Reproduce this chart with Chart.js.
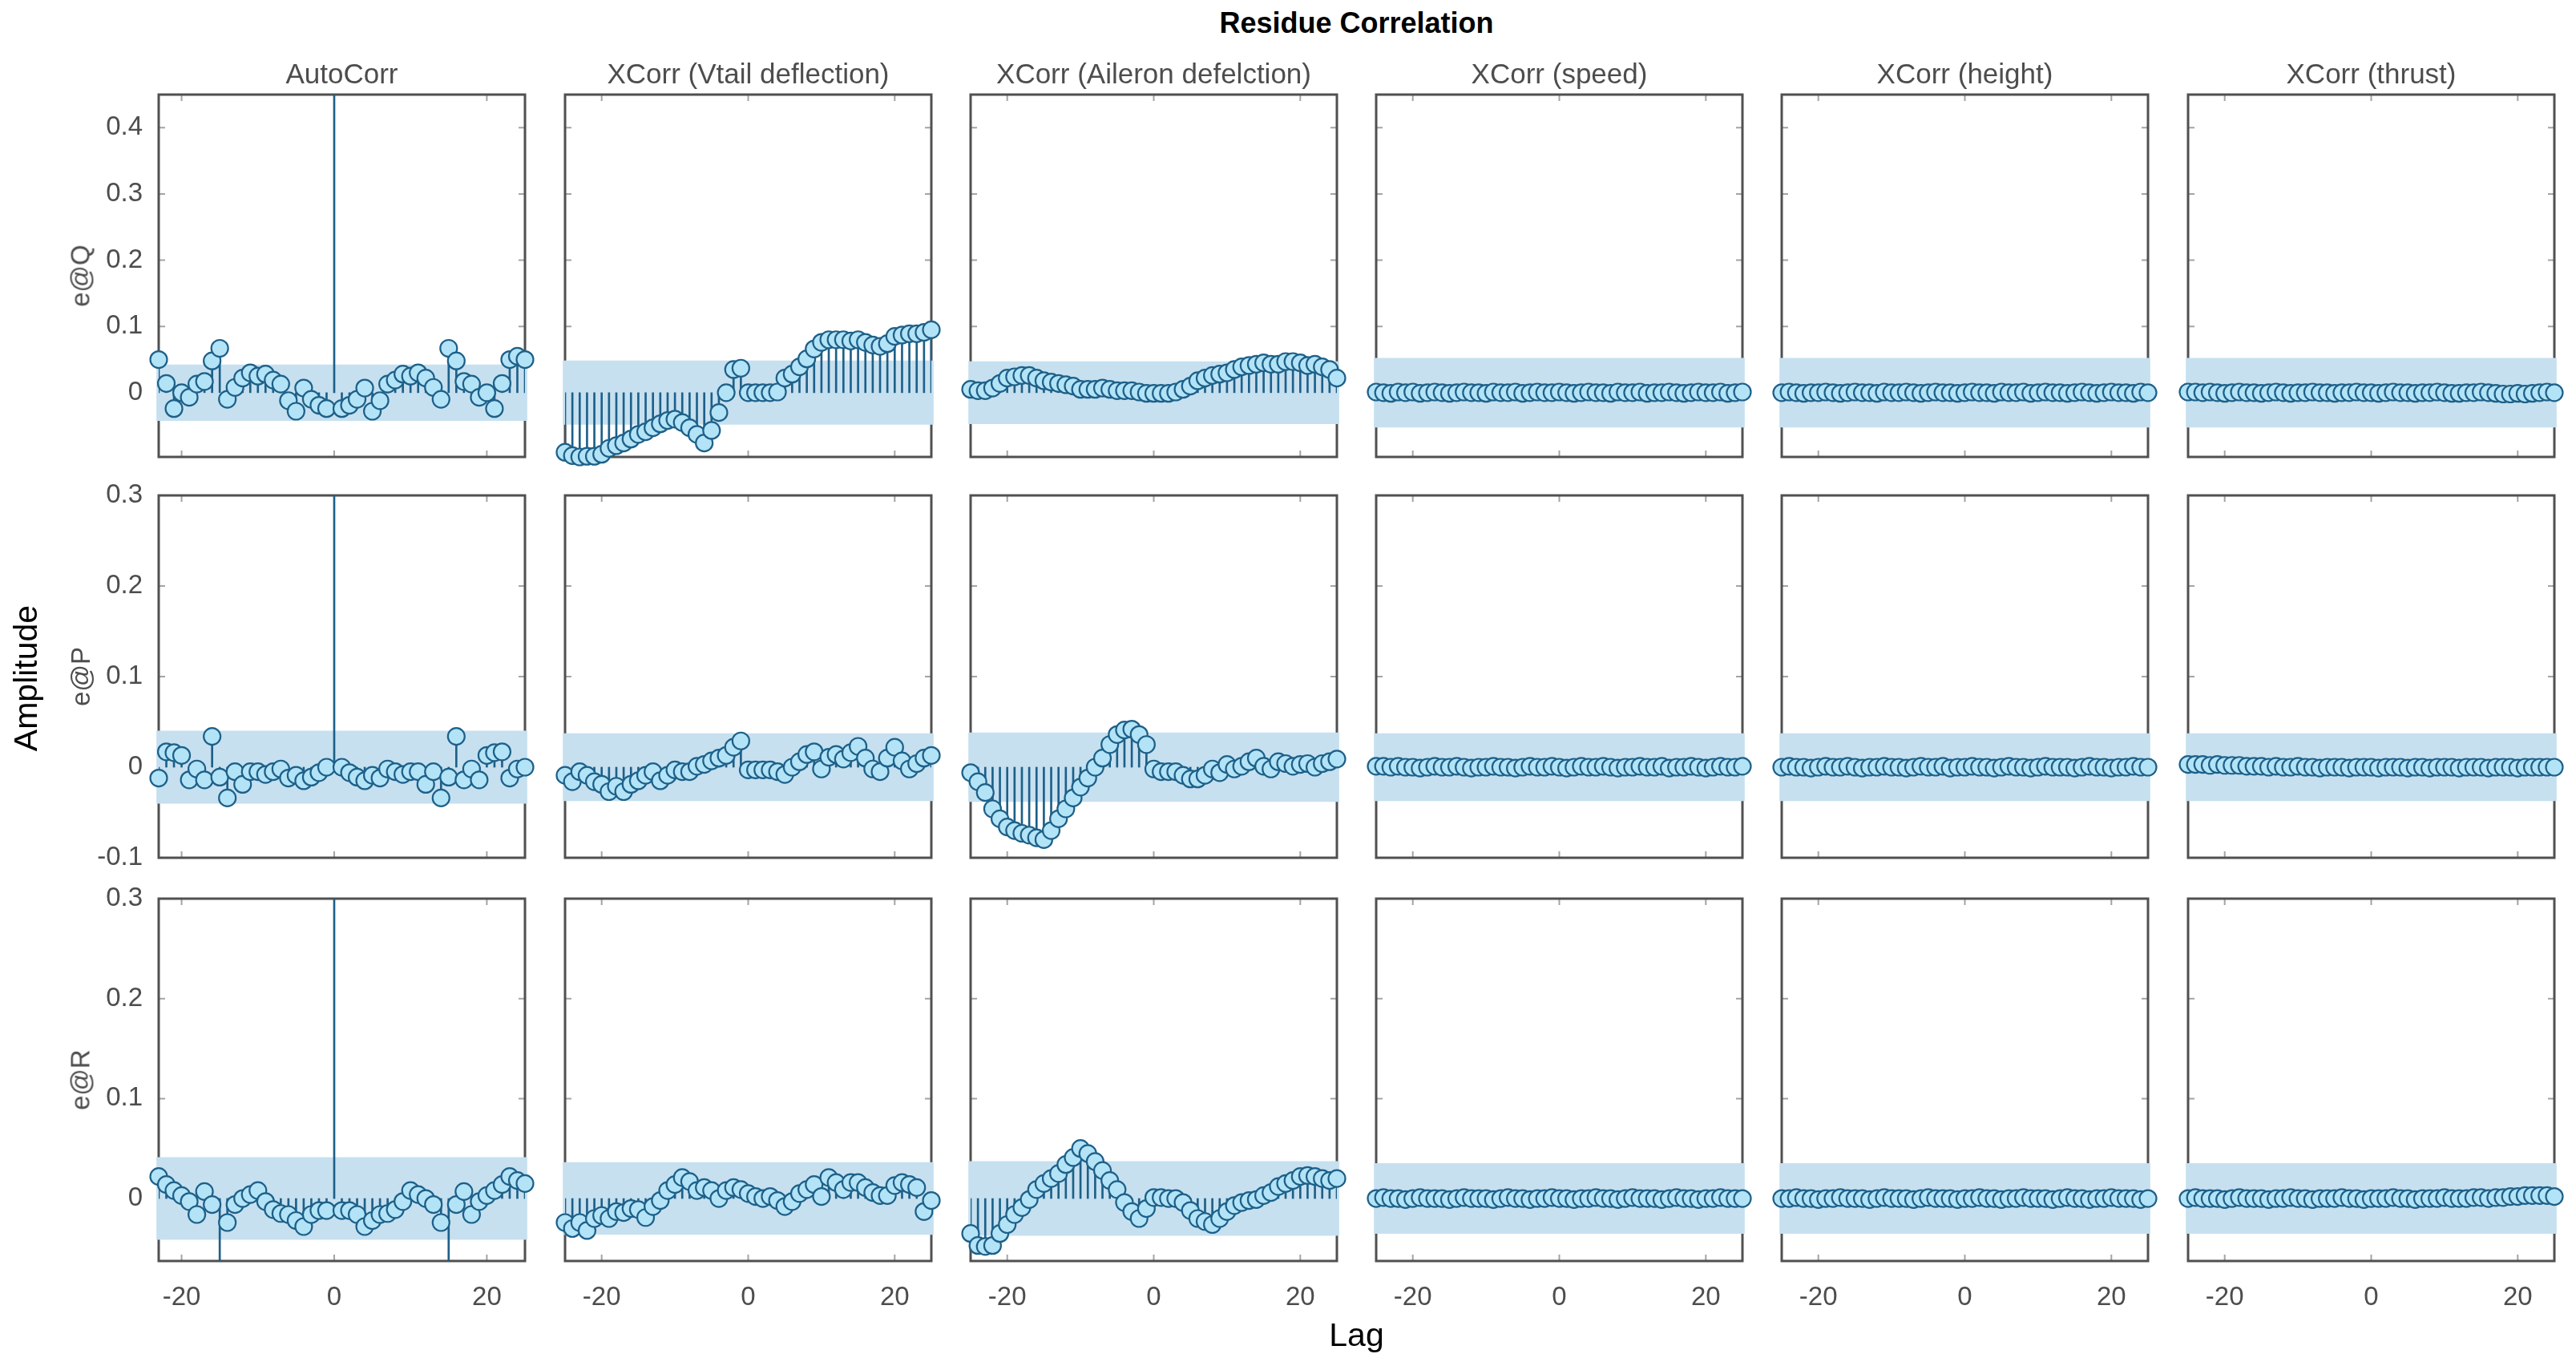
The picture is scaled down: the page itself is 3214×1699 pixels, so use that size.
<!DOCTYPE html>
<html>
<head>
<meta charset="utf-8">
<title>Residue Correlation</title>
<script src="https://cdn.jsdelivr.net/npm/chart.js@4.4.1/dist/chart.umd.min.js"></script>
<style>
  html, body { margin: 0; padding: 0; background: #fff; }
  #fig { position: relative; width: 3214px; height: 1699px; overflow: hidden;
         font-family: 'Liberation Sans', Arial, sans-serif; }
  #fig canvas { position: absolute; }
  .lbl { position: absolute; transform: translate(-50%, -50%); white-space: nowrap; line-height: 1; }
  .rot { transform: translate(-50%, -50%) rotate(-90deg); }
</style>
</head>
<body>
<div id="fig"></div>
<script>
// ---- data ----
const lags = [-25, -24, -23, -22, -21, -20, -19, -18, -17, -16, -15, -14, -13, -12, -11, -10, -9, -8, -7, -6, -5, -4, -3, -2, -1,
  0, 1, 2, 3, 4, 5, 6, 7, 8, 9, 10, 11, 12, 13, 14, 15, 16, 17, 18, 19, 20, 21, 22, 23, 24, 25];

const colTitles = ['AutoCorr', 'XCorr (Vtail deflection)', 'XCorr (Aileron defelction)',
  'XCorr (speed)', 'XCorr (height)', 'XCorr (thrust)'];
const rowNames = ['e@Q', 'e@P', 'e@R'];

const xTicks = [-20, 0, 20];
const xLimAuto = [-23, 25];
const xLimCross = [-25, 25];

const yTicksQ = [0, 0.1, 0.2, 0.3, 0.4];
const yTicksP = [-0.1, 0, 0.1, 0.2, 0.3];
const yTicksR = [0, 0.1, 0.2, 0.3];
const yLimQ = [-0.097, 0.45];
const yLimP = [-0.1, 0.3];
const yLimR = [-0.0625, 0.3];

// confidence band half widths per column
const bandQ = [0.042, 0.048, 0.047, 0.052, 0.052, 0.052];
const bandP = [0.040, 0.037, 0.038, 0.037, 0.037, 0.037];
const bandR = [0.041, 0.036, 0.037, 0.035, 0.035, 0.035];

// e@Q
const qAuto = [0.05, 0.055, 0.05, 0.014, -0.024, 0.0, -0.007, 0.013, 0.017, 0.048, 0.067, -0.01, 0.008, 0.022, 0.03, 0.025, 0.028, 0.019, 0.013, -0.012, -0.028, 0.007, -0.01, -0.019, -0.024,
  1, -0.024, -0.019, -0.01, 0.007, -0.028, -0.012, 0.013, 0.019, 0.028, 0.025, 0.03, 0.022, 0.008, -0.01, 0.067, 0.048, 0.017, 0.013, -0.007, 0.0, -0.024, 0.014, 0.05, 0.055, 0.05];
const qVtail = [-0.09, -0.095, -0.097, -0.096, -0.096, -0.093, -0.084, -0.08, -0.076, -0.07, -0.063, -0.059, -0.053, -0.047, -0.042, -0.04, -0.045, -0.053, -0.063, -0.076, -0.057, -0.03, 0.0, 0.035, 0.037,
  0.0, 0.0, 0.0, 0.0, 0.001, 0.022, 0.028, 0.039, 0.051, 0.066, 0.076, 0.08, 0.08, 0.08, 0.078, 0.08, 0.076, 0.072, 0.07, 0.074, 0.085, 0.087, 0.089, 0.089, 0.091, 0.095];
const qAileron = [0.005, 0.003, 0.003, 0.007, 0.014, 0.022, 0.024, 0.026, 0.026, 0.022, 0.018, 0.016, 0.014, 0.012, 0.01, 0.005, 0.005, 0.005, 0.007, 0.005, 0.003, 0.003, 0.003, 0.001, -0.001,
  -0.001, -0.001, -0.001, 0.001, 0.005, 0.01, 0.018, 0.022, 0.026, 0.028, 0.03, 0.035, 0.039, 0.041, 0.043, 0.045, 0.043, 0.043, 0.047, 0.047, 0.045, 0.041, 0.043, 0.039, 0.035, 0.022];
const qSpeed = [0.001, 0.000, -0.001, 0.001, 0.000, 0.001, -0.001, 0.000, 0.001, 0.000,
  -0.001, 0.000, 0.001, 0.000, 0.000, -0.001, 0.001, 0.000, 0.000, 0.001,
  -0.001, 0.000, 0.001, 0.000, 0.000, 0.001, 0.000, -0.001, 0.000, 0.001,
  0.000, 0.000, -0.001, 0.001, 0.000, 0.000, 0.001, -0.001, 0.000, 0.000,
  0.001, 0.000, -0.001, 0.000, 0.001, 0.000, 0.000, 0.001, -0.001, 0.000, 0.001];
const qHeight = [0.000, 0.001, 0.000, -0.001, 0.000, 0.000, 0.001, 0.000, -0.001, 0.000,
  0.001, 0.000, 0.000, -0.001, 0.001, 0.000, 0.000, 0.001, 0.000, -0.001,
  0.000, 0.001, 0.000, 0.000, -0.001, 0.000, 0.001, 0.000, 0.000, -0.001,
  0.001, 0.000, 0.000, 0.001, -0.001, 0.000, 0.001, 0.000, 0.000, -0.001,
  0.000, 0.001, 0.000, -0.001, 0.000, 0.001, 0.000, 0.000, -0.001, 0.001, 0.000];
const qThrust = [0.001, 0.001, 0.000, 0.001, 0.000, -0.001, 0.000, 0.001, 0.000, 0.000,
  -0.001, 0.000, 0.001, 0.000, -0.001, 0.000, 0.000, 0.001, 0.000, 0.000,
  -0.001, 0.000, 0.000, 0.001, 0.000, 0.000, -0.001, 0.000, 0.001, 0.000,
  0.000, -0.001, 0.000, 0.000, 0.001, 0.000, -0.001, -0.001, 0.000, 0.000,
  0.001, 0.000, -0.001, -0.002, -0.002, -0.001, -0.002, -0.001, 0.000, 0.001, 0.000];

// e@P
const pAuto = [0.0, -0.002, -0.012, 0.017, 0.016, 0.013, -0.014, -0.002, -0.014, 0.034, -0.011, -0.034, -0.005, -0.019, -0.005, -0.005, -0.008, -0.005, -0.002, -0.012, -0.009, -0.015, -0.011, -0.006, 0.0,
  1, 0.0, -0.006, -0.011, -0.015, -0.009, -0.012, -0.002, -0.005, -0.008, -0.005, -0.005, -0.019, -0.005, -0.034, -0.011, 0.034, -0.014, -0.002, -0.014, 0.013, 0.016, 0.017, -0.012, -0.002, 0.0];
const pVtail = [-0.009, -0.016, -0.005, -0.009, -0.016, -0.019, -0.027, -0.021, -0.027, -0.019, -0.015, -0.009, -0.005, -0.015, -0.009, -0.003, -0.005, -0.005, 0.001, 0.003, 0.007, 0.01, 0.013, 0.022, 0.029,
  -0.003, -0.003, -0.003, -0.003, -0.005, -0.008, 0.0, 0.006, 0.014, 0.017, -0.002, 0.011, 0.014, 0.009, 0.016, 0.023, 0.01, -0.002, -0.005, 0.01, 0.022, 0.007, -0.002, 0.004, 0.01, 0.013];
const pAileron = [-0.006, -0.016, -0.028, -0.046, -0.057, -0.066, -0.07, -0.073, -0.075, -0.078, -0.08, -0.07, -0.057, -0.046, -0.034, -0.022, -0.012, 0.0, 0.01, 0.025, 0.036, 0.041, 0.042, 0.036, 0.025,
  -0.002, -0.005, -0.005, -0.005, -0.009, -0.013, -0.013, -0.009, -0.002, -0.006, 0.003, -0.002, 0.001, 0.006, 0.01, 0.001, -0.002, 0.006, 0.004, 0.001, 0.003, 0.004, 0.0, 0.004, 0.006, 0.009];
const pSpeed = [0.001, 0.001, 0.000, 0.001, 0.000, 0.000, -0.001, 0.000, 0.001, 0.000,
  0.000, 0.001, 0.000, -0.001, 0.000, 0.000, 0.001, 0.000, 0.000, -0.001,
  0.000, 0.001, 0.000, 0.000, 0.001, 0.000, -0.001, 0.000, 0.001, 0.000,
  0.000, 0.001, 0.000, -0.001, 0.000, 0.000, 0.001, 0.000, 0.000, 0.001,
  -0.001, 0.000, 0.000, 0.001, 0.000, -0.001, 0.000, 0.001, 0.000, 0.000, 0.001];
const pHeight = [0.000, 0.001, 0.000, 0.000, -0.001, 0.000, 0.001, 0.000, 0.000, 0.001,
  0.000, -0.001, 0.000, 0.000, 0.001, 0.000, 0.000, -0.001, 0.000, 0.001,
  0.000, 0.000, 0.001, -0.001, 0.000, 0.000, 0.001, 0.000, 0.000, -0.001,
  0.000, 0.001, 0.000, 0.000, -0.001, 0.000, 0.001, 0.000, 0.000, 0.000,
  -0.001, 0.000, 0.001, 0.000, 0.000, -0.001, 0.000, 0.000, 0.001, 0.000, 0.000];
const pThrust = [0.003, 0.003, 0.003, 0.002, 0.003, 0.002, 0.002, 0.002, 0.001, 0.001,
  0.001, 0.000, 0.001, 0.000, 0.000, 0.001, 0.000, 0.000, -0.001, 0.000,
  0.000, 0.000, -0.001, 0.000, 0.000, 0.000, -0.001, 0.000, 0.000, 0.000,
  -0.001, 0.000, 0.000, -0.001, 0.000, 0.000, 0.000, -0.001, 0.000, 0.000,
  0.000, -0.001, 0.000, 0.000, 0.000, -0.001, 0.000, 0.000, 0.000, 0.000, 0.000];

// e@R
const rAuto = [0.015, 0.018, 0.022, 0.014, 0.008, 0.003, -0.003, -0.016, 0.007, -0.006, -0.12, -0.024, -0.006, 0.0, 0.004, 0.008, -0.003, -0.011, -0.015, -0.016, -0.022, -0.028, -0.016, -0.012, -0.012,
  1, -0.012, -0.012, -0.016, -0.028, -0.022, -0.016, -0.015, -0.011, -0.003, 0.008, 0.004, 0.0, -0.006, -0.024, -0.12, -0.006, 0.007, -0.016, -0.003, 0.003, 0.008, 0.014, 0.022, 0.018, 0.015];
const rVtail = [-0.024, -0.03, -0.024, -0.032, -0.02, -0.017, -0.02, -0.013, -0.014, -0.01, -0.011, -0.019, -0.008, -0.002, 0.008, 0.014, 0.021, 0.017, 0.008, 0.011, 0.008, 0.0, 0.008, 0.011, 0.009,
  0.005, 0.002, 0.0, 0.002, -0.002, -0.008, -0.003, 0.005, 0.009, 0.014, 0.002, 0.021, 0.016, 0.009, 0.016, 0.016, 0.011, 0.006, 0.003, 0.003, 0.013, 0.016, 0.014, 0.011, -0.013, -0.002];
const rAileron = [-0.035, -0.047, -0.048, -0.047, -0.035, -0.026, -0.016, -0.009, -0.001, 0.009, 0.015, 0.02, 0.025, 0.034, 0.041, 0.05, 0.045, 0.037, 0.028, 0.018, 0.009, -0.004, -0.013, -0.02, -0.01,
  0.001, 0.001, 0.0, 0.0, -0.004, -0.012, -0.02, -0.023, -0.026, -0.02, -0.013, -0.007, -0.004, -0.002, -0.001, 0.003, 0.006, 0.012, 0.015, 0.018, 0.022, 0.023, 0.022, 0.02, 0.018, 0.02];
const rSpeed = [0.000, 0.001, 0.000, 0.000, -0.001, 0.000, 0.001, 0.000, 0.000, 0.000,
  -0.001, 0.000, 0.001, 0.000, 0.000, 0.000, -0.001, 0.000, 0.001, 0.000,
  0.000, -0.001, 0.000, 0.000, 0.001, 0.000, 0.000, -0.001, 0.000, 0.000,
  0.001, 0.000, 0.000, -0.001, 0.000, 0.001, 0.000, 0.000, 0.000, -0.001,
  0.000, 0.001, 0.000, 0.000, -0.001, 0.000, 0.000, 0.001, 0.000, 0.000, 0.000];
const rHeight = [0.000, 0.000, 0.001, 0.000, 0.000, -0.001, 0.000, 0.000, 0.001, 0.000,
  0.000, 0.000, -0.001, 0.000, 0.001, 0.000, 0.000, 0.000, -0.001, 0.000,
  0.001, 0.000, 0.000, 0.000, -0.001, 0.000, 0.000, 0.001, 0.000, 0.000,
  -0.001, 0.000, 0.000, 0.001, 0.000, 0.000, 0.000, -0.001, 0.000, 0.001,
  0.000, 0.000, -0.001, 0.000, 0.000, 0.001, 0.000, 0.000, 0.000, -0.001, 0.000];
const rThrust = [0.000, 0.001, 0.000, 0.000, 0.000, -0.001, 0.000, 0.001, 0.000, 0.000,
  0.000, -0.001, 0.000, 0.000, 0.001, 0.000, 0.000, -0.001, 0.000, 0.000,
  0.000, 0.001, 0.000, 0.000, -0.001, 0.000, 0.000, 0.000, 0.001, 0.000,
  0.000, -0.001, 0.000, 0.000, 0.000, 0.001, 0.000, 0.000, 0.000, 0.001,
  0.001, 0.000, 0.001, 0.001, 0.002, 0.002, 0.003, 0.003, 0.003, 0.003, 0.002];

const rows = [
  { name: rowNames[0], lim: yLimQ, ticks: yTicksQ, band: bandQ, series: [qAuto, qVtail, qAileron, qSpeed, qHeight, qThrust] },
  { name: rowNames[1], lim: yLimP, ticks: yTicksP, band: bandP, series: [pAuto, pVtail, pAileron, pSpeed, pHeight, pThrust] },
  { name: rowNames[2], lim: yLimR, ticks: yTicksR, band: bandR, series: [rAuto, rVtail, rAileron, rSpeed, rHeight, rThrust] }
];

// ---- layout ----
const COL_X = [198, 705, 1211, 1717, 2223, 2730];
const ROW_Y = [118, 618, 1121];
const PANEL_W = 457;
const PANEL_H = 452;
const PAD = 50;
const YAXIS_W = 110;
const XAXIS_H = 80;
const TICK_LEN = 8;

const STEM = '#1d6089';
const MARKER_FILL = '#b3e3f6';
const BAND = '#c6e0f0';
const GRAY_TEXT = '#4d4d4d';

Chart.defaults.font.family = "'Liberation Sans', Arial, sans-serif";

// box on, ticks pointing inward like the original
const axesBox = {
    id: 'axesBox',
    beforeDatasetsDraw(chart) {
        const { ctx, chartArea: a, scales } = chart;
        ctx.save();
        ctx.strokeStyle = 'rgba(90, 90, 90, 0.55)';
        ctx.lineWidth = 2;
        ctx.beginPath();
        scales.x.ticks.forEach(t => {
            const px = scales.x.getPixelForValue(t.value);
            ctx.moveTo(px, a.bottom); ctx.lineTo(px, a.bottom - TICK_LEN);
            ctx.moveTo(px, a.top); ctx.lineTo(px, a.top + TICK_LEN);
        });
        scales.y.ticks.forEach(t => {
            const py = scales.y.getPixelForValue(t.value);
            ctx.moveTo(a.left, py); ctx.lineTo(a.left + TICK_LEN, py);
            ctx.moveTo(a.right, py); ctx.lineTo(a.right - TICK_LEN, py);
        });
        ctx.stroke();
        ctx.strokeStyle = '#505050';
        ctx.lineWidth = 3;
        ctx.strokeRect(a.left, a.top, a.width, a.height);
        ctx.restore();
    }
};

const fig = document.getElementById('fig');

function fmtTick(v) {
    return String(Math.round(v * 10) / 10);
}

function makePanel(r, c) {
    const row = rows[r];
    const vals = row.series[c];
    const xLim = c === 0 ? xLimAuto : xLimCross;
    const showY = c === 0;
    const showX = r === rows.length - 1;
    const yW = showY ? YAXIS_W : 0;
    const xH = showX ? XAXIS_H : 0;

    const canvas = document.createElement('canvas');
    canvas.width = PANEL_W + 2 * PAD + yW;
    canvas.height = PANEL_H + 2 * PAD + xH;
    canvas.style.left = (COL_X[c] - PAD - yW) + 'px';
    canvas.style.top = (ROW_Y[r] - PAD) + 'px';
    fig.appendChild(canvas);

    const points = lags.map((l, i) => ({ x: l, y: vals[i] }));
    const tol = 0.002;
    const visible = p => p.x >= xLim[0] - 0.01 && p.x <= xLim[1] + 0.01 &&
        p.y >= row.lim[0] - tol && p.y <= row.lim[1] + tol;

    return new Chart(canvas, {
        type: 'scatter',
        data: {
            datasets: [
                {
                    type: 'bar',
                    data: [{ x: (xLim[0] + xLim[1]) / 2, y: [-row.band[c], row.band[c]] }],
                    backgroundColor: BAND,
                    barThickness: PANEL_W + 5,
                    grouped: false,
                    clip: 3,
                    order: 3
                },
                {
                    type: 'bar',
                    data: points,
                    backgroundColor: STEM,
                    barThickness: 2,
                    grouped: false,
                    clip: 0,
                    order: 2
                },
                {
                    type: 'scatter',
                    data: points,
                    pointRadius: ctx => (ctx.raw && visible(ctx.raw)) ? 10.5 : 0,
                    pointBackgroundColor: MARKER_FILL,
                    pointBorderColor: STEM,
                    pointBorderWidth: 2.2,
                    showLine: false,
                    clip: false,
                    order: 1
                }
            ]
        },
        options: {
            responsive: false,
            animation: false,
            events: [],
            layout: { padding: PAD },
            plugins: { legend: { display: false }, tooltip: { enabled: false } },
            scales: {
                x: {
                    type: 'linear',
                    min: xLim[0],
                    max: xLim[1],
                    offset: false,
                    grid: { display: false, drawTicks: false, offset: false },
                    border: { display: false },
                    afterBuildTicks: s => { s.ticks = xTicks.map(v => ({ value: v })); },
                    afterFit: s => { s.height = xH; },
                    ticks: {
                        display: showX,
                        autoSkip: false,
                        maxRotation: 0,
                        padding: 26,
                        color: GRAY_TEXT,
                        font: { size: 33 },
                        callback: v => fmtTick(v)
                    }
                },
                y: {
                    type: 'linear',
                    min: row.lim[0],
                    max: row.lim[1],
                    grid: { display: false, drawTicks: false },
                    border: { display: false },
                    afterBuildTicks: s => { s.ticks = row.ticks.map(v => ({ value: v })); },
                    afterFit: s => { s.width = yW; },
                    ticks: {
                        display: showY,
                        autoSkip: false,
                        padding: 20,
                        color: GRAY_TEXT,
                        font: { size: 33 },
                        callback: v => fmtTick(v)
                    }
                }
            }
        },
        plugins: [axesBox]
    });
}

for (let r = 0; r < rows.length; r++) {
    for (let c = 0; c < colTitles.length; c++) {
        makePanel(r, c);
    }
}

// ---- text ----
function addLabel(text, x, y, style, rotate) {
    const el = document.createElement('div');
    el.className = 'lbl' + (rotate ? ' rot' : '');
    el.textContent = text;
    el.style.left = x + 'px';
    el.style.top = y + 'px';
    Object.assign(el.style, style);
    fig.appendChild(el);
}

const figCenterX = (COL_X[0] + COL_X[5] + PANEL_W) / 2;
addLabel('Residue Correlation', figCenterX, 29, { fontSize: '36px', fontWeight: 'bold', color: '#000' });
colTitles.forEach((t, c) => {
    addLabel(t, COL_X[c] + PANEL_W / 2, 91, { fontSize: '35px', color: GRAY_TEXT });
});
rows.forEach((row, r) => {
    addLabel(row.name, 100, ROW_Y[r] + PANEL_H / 2, { fontSize: '33px', color: GRAY_TEXT }, true);
});
addLabel('Amplitude', 32, (ROW_Y[0] + ROW_Y[2] + PANEL_H) / 2, { fontSize: '41px', color: '#000' }, true);
addLabel('Lag', figCenterX, 1665, { fontSize: '41px', color: '#000' });
</script>
</body>
</html>
